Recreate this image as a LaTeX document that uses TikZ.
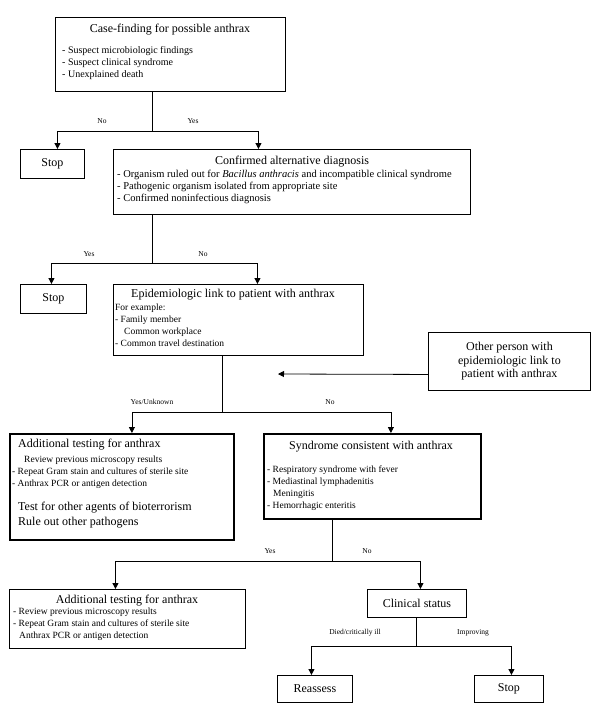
\documentclass[tikz,border=0pt]{standalone}
\usepackage{fontspec}
\setmainfont{Liberation Serif}
\usetikzlibrary{arrows.meta}
\begin{document}
\begin{tikzpicture}[x=1pt,y=-1pt,
  box/.style={draw, line width=0.9pt, anchor=north west, inner sep=0pt, font=\fontsize{12}{13.5}\selectfont},
  thickbox/.style={box, line width=1.8pt},
  ttl/.style={font=\fontsize{12}{14}\selectfont, inner sep=0pt},
  bul/.style={font=\fontsize{9.5}{12}\selectfont, align=left, anchor=north west, inner sep=0pt},
  bulw/.style={bul, font=\fontsize{10.5}{12}\selectfont},
  lbl/.style={font=\fontsize{7.5}{9}\selectfont, inner sep=0pt},
  conn/.style={line width=0.8pt},
  arr/.style={conn, -{Triangle[length=6pt,width=6pt]}}]
\useasboundingbox (0,0) rectangle (600,712);
\fill[white] (0,0) rectangle (600,712);

% boxes
\node[box, minimum width=230pt, minimum height=74pt] (case) at (55,17) {};
\node[box, minimum width=64pt, minimum height=29pt] (stop1) at (20,149) {Stop};
\node[box, minimum width=357pt, minimum height=65pt] (conf) at (113,149) {};
\node[box, minimum width=66pt, minimum height=29pt] (stop2) at (20,284) {Stop};
\node[box, minimum width=250pt, minimum height=71pt] (epi) at (113,284) {};
\node[box, minimum width=162pt, minimum height=58pt, align=center] (other) at (428,332) {Other person with\\epidemiologic link to\\patient with anthrax};
\node[thickbox, minimum width=224pt, minimum height=106pt] (add1) at (9,433) {};
\node[thickbox, minimum width=217pt, minimum height=85pt] (synd) at (263,433) {};
\node[box, minimum width=236pt, minimum height=59pt] (add2) at (9,589) {};
\node[box, minimum width=99pt, minimum height=28pt] (clin) at (367,589) {Clinical status};
\node[box, minimum width=75pt, minimum height=27pt] (reas) at (277,675) {Reassess};
\node[box, minimum width=69pt, minimum height=27pt] (stop3) at (474,675) {Stop};

% texts
\node[ttl] (caseT) at (170,30) {Case-finding for possible anthrax};
\node[bulw, font=\fontsize{10}{12}\selectfont] (caseB) at (62,46) {- Suspect microbiologic findings\\- Suspect clinical syndrome\\- Unexplained death};
\node[ttl] (confT) at (292,162) {Confirmed alternative diagnosis};
\node[bulw] (confB) at (117,170) {- Organism ruled out for \textit{Bacillus anthracis} and incompatible clinical syndrome\\- Pathogenic organism isolated from appropriate site\\- Confirmed noninfectious diagnosis};
\node[ttl, anchor=west] (epiT) at (131,295) {Epidemiologic link to patient with anthrax};
\node[bul] (epiB) at (115,304) {For example:\\- Family member\\\hspace*{9pt}Common workplace\\- Common travel destination};
\node[ttl, anchor=west] (add1T) at (18,445) {Additional testing for anthrax};
\node[bul] (add1B) at (12,456) {\hspace*{12pt}Review previous microscopy results\\- Repeat Gram stain and cultures of sterile site\\- Anthrax PCR or antigen detection};
\node[ttl, anchor=north west, align=left, font=\fontsize{12}{15}\selectfont] (add1C) at (18,502) {Test for other agents of bioterrorism\\Rule out other pathogens};
\node[ttl] (syndT) at (371,447) {Syndrome consistent with anthrax};
\node[bul] (syndB) at (267,466) {- Respiratory syndrome with fever\\- Mediastinal lymphadenitis\\\hspace*{6pt}Meningitis\\- Hemorrhagic enteritis};
\node[ttl] (add2T) at (127,601) {Additional testing for anthrax};
\node[bul] (add2B) at (13,608) {- Review previous microscopy results\\- Repeat Gram stain and cultures of sterile site\\\hspace*{6pt}Anthrax PCR or antigen detection};

% junctions
\coordinate (j1) at (152,131);
\coordinate (j2) at (152,263);
\coordinate (j3) at (222,412);
\coordinate (j4) at (332,561);
\coordinate (j5) at (416,646);
\coordinate (otherEnd) at (278,374);

% connectors
\draw[conn] (case.south -| j1) -- (j1);
\draw[arr] (j1) -| ([xshift=5pt]stop1.north);
\draw[arr] (j1) -| ([xshift=-33.5pt]conf.north);
\draw[conn] (conf.south -| j2) -- (j2);
\draw[arr] (j2) -| ([xshift=-2pt]stop2.north);
\draw[arr] (j2) -| ([xshift=19pt]epi.north);
\draw[arr] ([yshift=-13pt]other.west) -- (otherEnd);
\draw[conn] (epi.south -| j3) -- (j3);
\draw[arr] (j3) -| ([xshift=10pt]add1.north);
\draw[arr] (j3) -| ([xshift=18.5pt]synd.north);
\draw[conn] (synd.south -| j4) -- (j4);
\draw[arr] (j4) -| ([xshift=-12pt]add2.north);
\draw[arr] (j4) -| ([xshift=3.5pt]clin.north);
\draw[conn] (clin.south -| j5) -- (j5);
\draw[arr] (j5) -| ([xshift=-3.5pt]reas.north);
\draw[arr] (j5) -| ([xshift=2.5pt]stop3.north);

% labels
\node[lbl] (l1) at (102,121) {No};
\node[lbl] (l2) at (193,121) {Yes};
\node[lbl] (l3) at (89,254) {Yes};
\node[lbl] (l4) at (203,254) {No};
\node[lbl] (l5) at (152,402) {Yes/Unknown};
\node[lbl] (l6) at (330,402) {No};
\node[lbl] (l7) at (270,551) {Yes};
\node[lbl] (l8) at (367,551) {No};
\node[lbl] (l9) at (355,633) {Died/critically ill};
\node[lbl] (l10) at (473,633) {Improving};
\end{tikzpicture}
\end{document}
